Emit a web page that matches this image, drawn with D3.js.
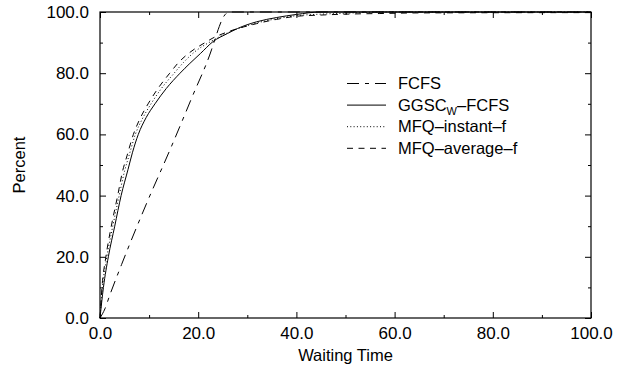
<!DOCTYPE html>
<html>
<head>
<meta charset="utf-8">
<script src="https://cdn.jsdelivr.net/npm/d3@7"></script>
<style>
  body { margin: 0; background: #fff; }
  text { font-family: "Liberation Sans", Arial, sans-serif; fill: #000; }
</style>
</head>
<body>
<svg width="625" height="368"></svg>
<script>
// values (waiting time -> percent)
var fcfsX = [0, 1, 2, 4.4, 9.5, 14.4, 18.7, 22.7, 23.5, 24.3, 25, 25.7, 26.5, 100];
var fcfsY = [0, 3, 7.5, 17.5, 37.5, 55.5, 72, 87.6, 91.5, 95.3, 98, 99.5, 100, 100];

var ggscX = [0, 0.7, 1.7, 3.0, 4.3, 5.7, 6.6, 7.8, 9.4, 11.2, 13.5, 16.3, 18.3, 20.5, 23, 26, 28, 31.9, 36, 40, 45, 100];
var ggscY = [0, 10, 20, 30, 40, 48.5, 54, 60, 65.5, 70, 75, 80, 83.2, 86.5, 90.3, 93, 94.6, 96.8, 98.2, 99.2, 100, 100];

var instX = [0, 0.5, 1.4, 2.6, 3.9, 5.0, 5.9, 7.2, 8.6, 10.4, 12.5, 15.1, 17, 19.3, 22.5, 26, 31.9, 36, 40, 45, 50, 55, 60, 100];
var instY = [0, 10, 20, 30, 40, 48, 53, 60, 65, 70, 75, 80, 83.5, 87, 90.3, 93.2, 96.4, 97.8, 98.8, 99.3, 99.6, 99.9, 100, 100];

var avgX = [0, 0.4, 1.2, 2.3, 3.6, 4.6, 5.5, 6.8, 8.1, 9.8, 11.8, 14.2, 16, 18.3, 21.4, 23, 26, 31.9, 36, 40, 45, 50, 57, 65, 100];
var avgY = [0, 10, 20, 30, 40, 48, 53, 60, 65, 70, 75, 80, 83.5, 86.8, 90, 91.5, 93.5, 96.2, 97.6, 98.6, 99.0, 99.3, 99.5, 99.7, 99.8];

var seriesNames = ["FCFS", "GGSC", "MFQ\u2013instant\u2013f", "MFQ\u2013average\u2013f"];
var dashes = ["12,6,4,6", null, "1,2.3", "6,5.5"];
var majorTicks = [0, 20, 40, 60, 80, 100];
var minorTicks = [10, 30, 50, 70, 90];

var svg = d3.select("svg");
var plotLeft = 100, plotRight = 591, plotTop = 12, plotBottom = 318;

var x = d3.scaleLinear().domain([0, 100]).range([plotLeft, plotRight]);
var y = d3.scaleLinear().domain([0, 100]).range([plotBottom, plotTop]);
var fmt = d3.format(".1f");

function styleAxis(g) {
  g.select(".domain").remove();
  g.selectAll("line").attr("stroke", "#000").attr("stroke-width", 1);
  g.selectAll("text").style("font-size", "17px").attr("fill", "#000");
}

// bottom axis with labels, ticks pointing in
svg.append("g").attr("transform", "translate(0," + plotBottom + ")")
  .call(d3.axisBottom(x).tickValues(majorTicks).tickFormat(fmt).tickSize(-6).tickSizeOuter(0).tickPadding(9))
  .call(styleAxis);
svg.append("g").attr("transform", "translate(0," + plotBottom + ")")
  .call(d3.axisBottom(x).tickValues(minorTicks).tickFormat("").tickSize(-3).tickSizeOuter(0))
  .call(styleAxis);
// left axis
svg.append("g").attr("transform", "translate(" + plotLeft + ",0)")
  .call(d3.axisLeft(y).tickValues(majorTicks).tickFormat(fmt).tickSize(-6).tickSizeOuter(0).tickPadding(11))
  .call(styleAxis);
svg.append("g").attr("transform", "translate(" + plotLeft + ",0)")
  .call(d3.axisLeft(y).tickValues(minorTicks).tickFormat("").tickSize(-3).tickSizeOuter(0))
  .call(styleAxis);
// top and right, ticks only
svg.append("g").attr("transform", "translate(0," + plotTop + ")")
  .call(d3.axisTop(x).tickValues(majorTicks).tickFormat("").tickSize(-6).tickSizeOuter(0))
  .call(styleAxis);
svg.append("g").attr("transform", "translate(0," + plotTop + ")")
  .call(d3.axisTop(x).tickValues(minorTicks).tickFormat("").tickSize(-3).tickSizeOuter(0))
  .call(styleAxis);
svg.append("g").attr("transform", "translate(" + plotRight + ",0)")
  .call(d3.axisRight(y).tickValues(majorTicks).tickFormat("").tickSize(-6).tickSizeOuter(0))
  .call(styleAxis);
svg.append("g").attr("transform", "translate(" + plotRight + ",0)")
  .call(d3.axisRight(y).tickValues(minorTicks).tickFormat("").tickSize(-3).tickSizeOuter(0))
  .call(styleAxis);

// frame
svg.append("rect")
  .attr("x", plotLeft).attr("y", plotTop)
  .attr("width", plotRight - plotLeft).attr("height", plotBottom - plotTop)
  .attr("fill", "none").attr("stroke", "#000").attr("stroke-width", 1.2);

var line = d3.line()
  .x(function (d) { return x(d[0]); })
  .y(function (d) { return y(d[1]); })
  .curve(d3.curveMonotoneX);

var allX = [fcfsX, ggscX, instX, avgX];
var allY = [fcfsY, ggscY, instY, avgY];

allX.forEach(function (xs, i) {
  var pts = xs.map(function (v, j) { return [v, allY[i][j]]; });
  svg.append("path")
    .datum(pts)
    .attr("d", line)
    .attr("fill", "none")
    .attr("stroke", "#000")
    .attr("stroke-width", 1)
    .attr("stroke-dasharray", dashes[i]);
});

// legend
var legend = svg.append("g").attr("transform", "translate(347,83.5)");
seriesNames.forEach(function (name, i) {
  var row = legend.append("g").attr("transform", "translate(0," + (i * 21.6) + ")");
  row.append("line")
    .attr("x1", 0).attr("x2", 39)
    .attr("stroke", "#000").attr("stroke-width", 1)
    .attr("stroke-dasharray", dashes[i]);
  var t = row.append("text").attr("x", 51).attr("dy", "0.35em").style("font-size", "16.5px");
  if (name === "GGSC") {
    t.append("tspan").text("GGSC");
    t.append("tspan").text("W").attr("dy", "0.35em").style("font-size", "11px");
    t.append("tspan").text("\u2013FCFS").attr("dy", "-0.25em");
  } else {
    t.text(name);
  }
});

// axis titles
svg.append("text")
  .attr("x", (plotLeft + plotRight) / 2).attr("y", 355)
  .attr("text-anchor", "middle").attr("dy", "0.35em")
  .style("font-size", "16.5px")
  .text("Waiting Time");
svg.append("text")
  .attr("transform", "translate(19,165) rotate(-90)")
  .attr("text-anchor", "middle").attr("dy", "0.35em")
  .style("font-size", "16.5px")
  .text("Percent");
</script>
</body>
</html>
